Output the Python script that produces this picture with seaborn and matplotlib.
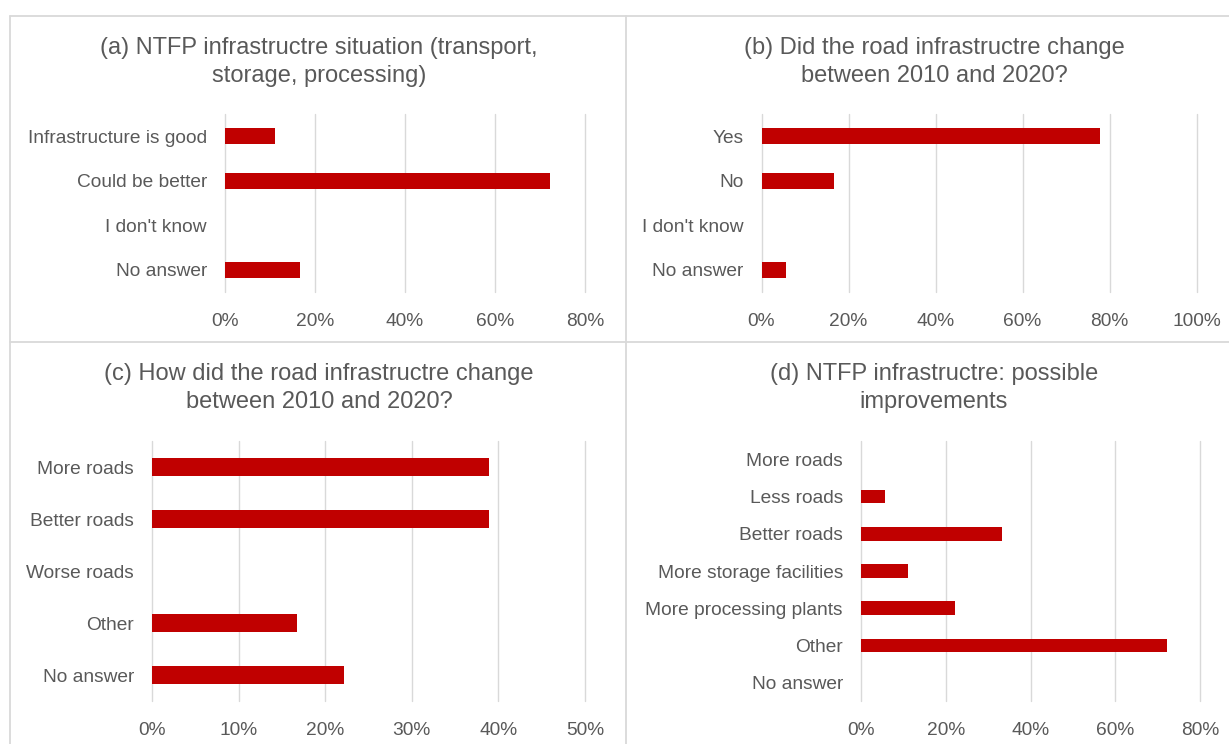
import matplotlib
matplotlib.use("Agg")
import matplotlib.pyplot as plt
from matplotlib.lines import Line2D
from matplotlib.ticker import PercentFormatter, MultipleLocator
import seaborn as sns
import pandas as pd

# Survey responses (share of respondents, %)
cats_a = ["Infrastructure is good", "Could be better", "I don't know", "No answer"]
vals_a = [11.1, 72.2, 0.0, 16.7]

cats_b = ["Yes", "No", "I don't know", "No answer"]
vals_b = [77.8, 16.7, 0.0, 5.6]

cats_c = ["More roads", "Better roads", "Worse roads", "Other", "No answer"]
vals_c = [38.9, 38.9, 0.0, 16.7, 22.2]

cats_d = ["More roads", "Less roads", "Better roads", "More storage facilities",
          "More processing plants", "Other", "No answer"]
vals_d = [0.0, 5.6, 33.3, 11.1, 22.2, 72.2, 0.0]

titles = [
    "(a) NTFP infrastructre situation (transport,\nstorage, processing)",
    "(b) Did the road infrastructre change\nbetween 2010 and 2020?",
    "(c) How did the road infrastructre change\nbetween 2010 and 2020?",
    "(d) NTFP infrastructre: possible\nimprovements",
]

sns.set_style("white")
plt.rcParams["font.family"] = ["Liberation Sans", "DejaVu Sans"]

TEXT = "#595959"
BAR = "#C00000"
GRID = "#D9D9D9"

W, H = 1229, 744
fig = plt.figure(figsize=(W / 100, H / 100), dpi=100)

# axes rectangles given in pixels: left, top, right, bottom
boxes = [
    (225, 114, 585, 292),
    (761.5, 114, 1196.5, 292),
    (152, 441, 585, 701),
    (861, 441, 1200, 701),
]
panels = [(cats_a, vals_a, 80, 20), (cats_b, vals_b, 100, 20),
          (cats_c, vals_c, 50, 10), (cats_d, vals_d, 80, 20)]

for (l, t, r, b), (cats, vals, xmax, step) in zip(boxes, panels):
    ax = fig.add_axes([l / W, 1 - b / H, (r - l) / W, (b - t) / H])
    df = pd.DataFrame({"category": cats, "share": vals})
    sns.barplot(data=df, x="share", y="category", orient="h", color=BAR,
                width=0.36, saturation=1, linewidth=0, ax=ax)
    ax.set_xlim(0, xmax)
    ax.set_ylim(len(cats) - 0.5, -0.5)
    ax.xaxis.set_major_locator(MultipleLocator(step))
    ax.xaxis.set_major_formatter(PercentFormatter(xmax=100, decimals=0))
    ax.grid(axis="x", color=GRID, linewidth=1.0)
    ax.grid(axis="y", visible=False)
    for gl in ax.get_xgridlines():
        gl.set_clip_on(False)
    ax.set_axisbelow(True)
    for s in ax.spines.values():
        s.set_visible(False)
    ax.set_xlabel("")
    ax.set_ylabel("")
    ax.tick_params(axis="both", length=0, labelsize=13.8, colors=TEXT)
    ax.tick_params(axis="x", pad=15)
    ax.tick_params(axis="y", pad=13)
    ax.set_facecolor("none")

# panel titles
title_pos = [(319, 62), (934, 62), (319, 388), (934, 388)]
for (x, y), txt in zip(title_pos, titles):
    fig.text(x / W, 1 - y / H, txt, ha="center", va="center",
             multialignment="center", fontsize=17, color=TEXT, linespacing=1.35)

# panel frames
def hline(y, x0, x1):
    fig.add_artist(Line2D([x0 / W, x1 / W], [1 - y / H, 1 - y / H],
                          transform=fig.transFigure, color=GRID, lw=1.3))

def vline(x, y0, y1):
    fig.add_artist(Line2D([x / W, x / W], [1 - y0 / H, 1 - y1 / H],
                          transform=fig.transFigure, color=GRID, lw=1.3))

hline(16, 10, W)
hline(342, 10, W)
vline(10, 16, H)
vline(626, 16, H)

fig.savefig("out.png", dpi=100, facecolor="white")
